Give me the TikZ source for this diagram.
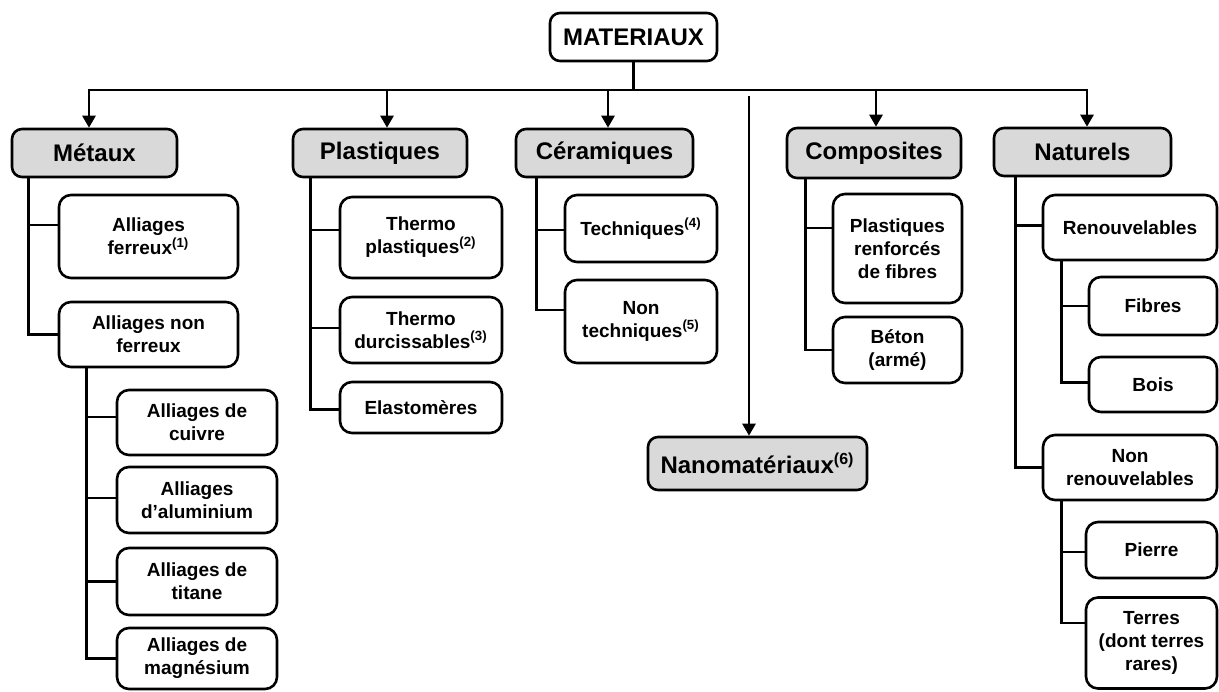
\documentclass[tikz,border=0pt]{standalone}
\usepackage{fontspec}
\setmainfont{Liberation Sans}
\usepackage{tikz}
\usetikzlibrary{arrows.meta}
\definecolor{catgray}{HTML}{D9D9D9}
\tikzset{
  boxdim/.style 2 args={minimum width=#1*0.5pt, minimum height=#2*0.5pt},
  rootbox/.style={draw, line width=1.3pt, rounded corners=5pt, fill=white, inner sep=1pt,
    font=\bfseries\fontsize{12}{14}\selectfont},
  catbox/.style={rootbox, fill=catgray},
  subbox/.style={draw, line width=1.3pt, rounded corners=6pt, fill=white, align=center,
    inner sep=1pt, font=\bfseries\fontsize{9.5}{11.5}\selectfont},
  link/.style={line width=1.3pt},
  arr/.style={link, -{Triangle[length=6pt,width=6.5pt]}},
}
\begin{document}
\begin{tikzpicture}[x=0.5pt,y=-0.5pt]
        \useasboundingbox (0,0) rectangle (1219,691);
        \node[rootbox,boxdim={167}{48}] (mat) at (633.5,37) {MATERIAUX};
        \node[catbox,boxdim={165}{48}] (metaux) at (94.5,153) {Métaux};
        \node[catbox,boxdim={174}{48}] (plast) at (380,153) {Plastiques};
        \node[catbox,boxdim={177}{48}] (ceram) at (604.5,153) {Céramiques};
        \node[catbox,boxdim={174}{50}] (compo) at (874,153) {Composites};
        \node[catbox,boxdim={177}{48}] (natur) at (1082.5,152) {Naturels};
        \node[catbox,boxdim={219}{53}] (nano) at (757.5,463.5) {Nanomatériaux\textsuperscript{(6)}};
        \coordinate (bus) at (633.5,90);
        \coordinate (nanotop) at (749,96);
        \draw[link] (mat.south) -- (bus);
        \foreach \h/\d in {metaux/-2.75pt,plast/3.5pt,ceram/1.75pt,compo/1pt,natur/2.25pt}
          \draw[arr] (bus) -| ([xshift=\d]\h.north);
        \draw[arr] (nanotop) -- (nanotop |- nano.north);
        \node[subbox,boxdim={179}{83}] (ferreux) at (148.5,236.5) {Alliages\\ferreux\textsuperscript{(1)}};
        \node[subbox,boxdim={179}{65}] (nonferreux) at (148.5,334.5) {Alliages non\\ferreux};
        \node[subbox,boxdim={160}{65}] (cuivre) at (197,422.5) {Alliages de\\cuivre};
        \node[subbox,boxdim={160}{66}] (alu) at (197,500) {Alliages\\d'aluminium};
        \node[subbox,boxdim={160}{67}] (titane) at (197,581.5) {Alliages de\\titane};
        \node[subbox,boxdim={160}{61}] (magnes) at (197,658.5) {Alliages de\\magnésium};
        \node[subbox,boxdim={162}{81}] (thplast) at (421,237.5) {Thermo\\plastiques\textsuperscript{(2)}};
        \node[subbox,boxdim={162}{66}] (thdurc) at (421,330) {Thermo\\durcissables\textsuperscript{(3)}};
        \node[subbox,boxdim={162}{51}] (elasto) at (421,407.5) {Elastomères};
        \node[subbox,boxdim={152}{67}] (techn) at (641,228.5) {Techniques\textsuperscript{(4)}};
        \node[subbox,boxdim={152}{83}] (nontechn) at (641,321.5) {Non\\techniques\textsuperscript{(5)}};
        \node[subbox,boxdim={129}{109}] (prf) at (897.5,248.5) {Plastiques\\renforcés\\de fibres};
        \node[subbox,boxdim={129}{66}] (beton) at (897.5,350) {Béton\\(armé)};
        \node[subbox,boxdim={174}{65}] (renouv) at (1130,227.5) {Renouvelables};
        \node[subbox,boxdim={128}{58}] (fibres) at (1153,306) {Fibres};
        \node[subbox,boxdim={128}{55}] (bois) at (1153,384.5) {Bois};
        \node[subbox,boxdim={174}{65}] (nonrenouv) at (1130,467.5) {Non\\renouvelables};
        \node[subbox,boxdim={131}{56}] (pierre) at (1151.5,550) {Pierre};
        \node[subbox,boxdim={131}{91}] (terres) at (1151.5,643) {Terres\\(dont terres\\rares)};
        \draw[link] foreach \b/\d in {ferreux/5.75pt,nonferreux/0pt}{([xshift=9pt]metaux.south west) |- ([yshift=\d]\b.west)};
        \draw[link] foreach \b/\d in {cuivre/2.75pt,alu/1pt,titane/0pt,magnes/0pt}{([xshift=14.5pt]nonferreux.south west) |- ([yshift=\d]\b.west)};
        \draw[link] foreach \b/\d in {thplast/3.75pt,thdurc/1pt,elasto/-1pt}{([xshift=9.5pt]plast.south west) |- ([yshift=\d]\b.west)};
        \draw[link] foreach \b/\d in {techn/-0.75pt,nontechn/5.75pt}{([xshift=11pt]ceram.south west) |- ([yshift=\d]\b.west)};
        \draw[link] foreach \b/\d in {prf/10.25pt,beton/0pt}{([xshift=10pt]compo.south west) |- ([yshift=\d]\b.west)};
        \draw[link] foreach \b/\d in {renouv/1pt,nonrenouv/0pt}{([xshift=11.5pt]natur.south west) |- ([yshift=\d]\b.west)};
        \draw[link] foreach \b/\d in {fibres/0pt,bois/1pt}{([xshift=10pt]renouv.south west) |- ([yshift=\d]\b.west)};
        \draw[link] foreach \b/\d in {pierre/-1pt,terres/10pt}{([xshift=10pt]nonrenouv.south west) |- ([yshift=\d]\b.west)};
      \end{tikzpicture}
\end{document}
